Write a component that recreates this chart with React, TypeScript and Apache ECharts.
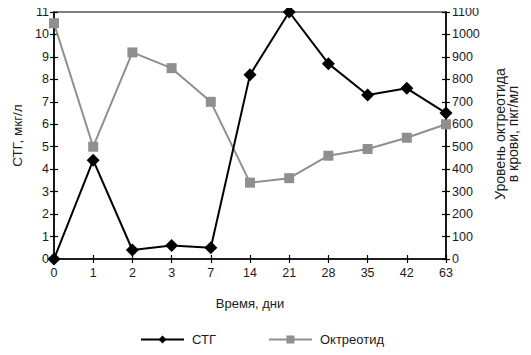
import React, { useEffect, useRef } from "react";
import * as echarts from "echarts";

const days = ["0", "1", "2", "3", "7", "14", "21", "28", "35", "42", "63"];
const stg = [0, 4.4, 0.4, 0.6, 0.5, 8.2, 11, 8.7, 7.3, 7.6, 6.5];
const octreotide = [1050, 500, 920, 850, 700, 340, 360, 460, 490, 540, 600];

const FONT = "Liberation Sans";
const TXT = "#1a1a1a";

export default function App() {
  const ref = useRef<HTMLDivElement>(null);
  useEffect(() => {
    if (!ref.current) return;
    const chart = echarts.init(ref.current, undefined, { renderer: "svg" });
    const baseY = {
      type: "value",
      splitLine: { show: false },
      axisLine: { show: true, lineStyle: { color: "#000", width: 1.5 } },
    };
    const tickStyle = { color: "#000", width: 1.2 };
    chart.setOption({
      animation: false,
      textStyle: { fontFamily: FONT, color: TXT },
      grid: {
        left: 54,
        right: 85,
        top: 12,
        bottom: 96,
        show: true,
        borderColor: "#000",
        borderWidth: 1.2,
        backgroundColor: "transparent",
      },
      legend: {
        bottom: 4,
        left: 135,
        itemWidth: 43,
        itemHeight: 10,
        itemGap: 52,
        data: ["СТГ", "Октреотид"],
        textStyle: { fontFamily: FONT, fontSize: 13, color: TXT, padding: [0, 0, 0, 3] },
      },
      graphic: [
        {
          type: "text",
          x: 506,
          y: 134,
          rotation: Math.PI / 2,
          style: {
            text: "Уровень октреотида\nв крови, пкг/мл",
            align: "center",
            verticalAlign: "middle",
            fontFamily: FONT,
            fontSize: 14,
            lineHeight: 13,
            fill: TXT,
          },
        },
      ],
      xAxis: [
        {
          type: "category",
          data: days,
          boundaryGap: false,
          position: "bottom",
          axisLine: { lineStyle: { color: "#000", width: 1.5 } },
          axisTick: { show: true, length: 4, lineStyle: tickStyle },
          axisLabel: { fontSize: 12.5, color: TXT, fontFamily: FONT, margin: 7 },
          name: "Время, дни",
          nameLocation: "middle",
          nameGap: 38,
          nameTextStyle: { fontSize: 13, color: TXT, fontFamily: FONT },
        },
        {
          type: "category",
          data: days,
          boundaryGap: false,
          position: "bottom",
          offset: 0,
          axisLine: { show: false },
          axisTick: { show: true, inside: true, length: 4, lineStyle: tickStyle },
          axisLabel: { show: false },
        },
      ],
      yAxis: [
        {
          ...baseY,
          position: "left",
          min: 0,
          max: 11,
          interval: 1,
          axisTick: { show: true, length: 4, lineStyle: tickStyle },
          axisLabel: { fontSize: 12.5, color: TXT, fontFamily: FONT, margin: 5 },
          name: "СТГ, мкг/л",
          nameLocation: "middle",
          nameRotate: 90,
          nameGap: 30,
          nameTextStyle: { fontSize: 13.5, color: TXT, fontFamily: FONT },
        },
        {
          ...baseY,
          position: "right",
          min: 0,
          max: 1100,
          interval: 100,
          axisTick: { show: true, length: 4, lineStyle: tickStyle },
          axisLabel: {
            fontSize: 12.5,
            color: TXT,
            fontFamily: FONT,
            margin: 6,
            formatter: (v: number) => String(v),
          },
        },
        {
          ...baseY,
          position: "left",
          min: 0,
          max: 11,
          interval: 1,
          axisLine: { show: false },
          axisTick: { show: true, inside: true, length: 4, lineStyle: tickStyle },
          axisLabel: { show: false },
        },
        {
          ...baseY,
          position: "right",
          min: 0,
          max: 1100,
          interval: 100,
          axisLine: { show: false },
          axisTick: { show: true, inside: true, length: 4, lineStyle: tickStyle },
          axisLabel: { show: false },
        },
      ],
      series: [
        {
          name: "Октреотид",
          type: "line",
          yAxisIndex: 1,
          data: octreotide,
          symbol: "rect",
          symbolSize: 10,
          lineStyle: { color: "#8f8f8f", width: 2 },
          itemStyle: { color: "#8f8f8f" },
          z: 2,
        },
        {
          name: "СТГ",
          type: "line",
          yAxisIndex: 0,
          data: stg,
          symbol: "diamond",
          symbolSize: 13,
          lineStyle: { color: "#000", width: 2 },
          itemStyle: { color: "#000" },
          z: 3,
        },
      ],
    });
    return () => chart.dispose();
  }, []);
  return <div ref={ref} style={{ width: 531, height: 355, margin: -8 }} />;
}
